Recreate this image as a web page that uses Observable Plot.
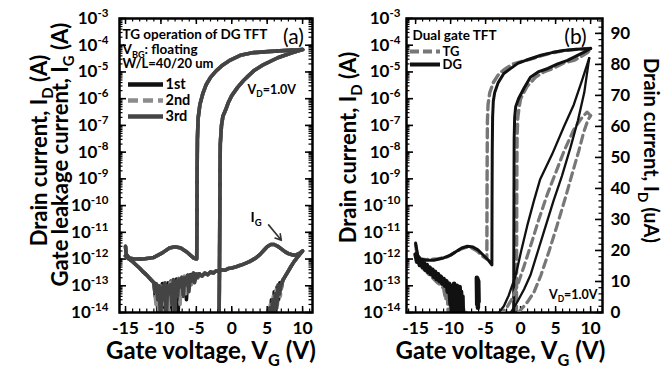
<!DOCTYPE html>
<html><head><meta charset="utf-8">
<script src="https://cdn.jsdelivr.net/npm/d3@7"></script>
<script src="https://cdn.jsdelivr.net/npm/@observablehq/plot@0.6"></script>
<style>
body{margin:0;background:#fff;}
#wrap{position:relative;width:663px;height:369px;overflow:hidden;background:#fff;}
</style></head><body><div id="wrap"></div>
<script>
// ---------- tick labels / categories ----------
const logMajor = [1e-3,1e-4,1e-5,1e-6,1e-7,1e-8,1e-9,1e-10,1e-11,1e-12,1e-13,1e-14];
const xTicks = [-15,-10,-5,0,5,10];
const linTicks = [0,10,20,30,40,50,60,70,80,90];
const legendA = ["1st","2nd","3rd"];
const legendB = ["TG","DG"];

// ---------- panel (a): I_D loop (shared by the 3 overlapping sweeps) [V, A] ----------
const aIdFwd = [[-15,3e-15],[-1.8,3e-15],[-1.75,1e-13],[-1.7,1e-11],[-1.66,1e-9],[-1.62,2e-8],[-1.45,1e-7],[-1.25,2.2e-7],[-0.9,3.6e-7],[-0.5,7e-7],[0,1.3e-6],[0.8,2.6e-6],[1.6,4.6e-6],[2.3,7e-6],[3.1,1.1e-5],[4.5,1.9e-5],[6.5,3.4e-5],[8.3,5e-5],[10,6.9e-5]];
const aIdRev = [[10,6.9e-5],[8,6.4e-5],[5.5,5.9e-5],[3.1,5.3e-5],[1.2,4.2e-5],[-0.2,2.8e-5],[-1.3,1.8e-5],[-2.2,1.1e-5],[-3,6.3e-6],[-3.6,3.4e-6],[-4.1,1.5e-6],[-4.5,6e-7],[-4.75,1.8e-7],[-4.85,3e-8],[-4.9,1e-9],[-4.92,1e-11],[-4.95,1e-12],[-5.4,1.1e-12],[-6.3,1.8e-12],[-7.2,2.6e-12],[-8.0,2.9e-12],[-8.8,2.6e-12],[-9.8,1.7e-12],[-11,1.15e-12],[-12.5,1e-12],[-13.8,1e-12],[-14.5,1.1e-12],[-14.9,1.5e-12],[-15,3e-12]];
// gate leakage I_G
const aIgStart = [[-15,1.3e-12],[-14.5,1e-12],[-14,8e-13],[-13.5,6e-13],[-13,4.5e-13],[-12.5,3.3e-13],[-12,2.5e-13],[-11.5,1.8e-13],[-11,1.3e-13]];
const aIgNoiseL1 = [[-11,1.3e-13],[-10.8,4e-14],[-10.6,1.1e-13],[-10.4,6e-15],[-10.2,9e-14],[-10,2e-14],[-9.8,1.2e-13],[-9.6,5e-15],[-9.4,7e-14],[-9.2,3e-15],[-9,1.3e-13],[-8.8,3e-14],[-8.6,1.5e-13],[-8.4,5e-15],[-8.2,1.2e-13],[-8,4e-14],[-7.8,1.8e-13],[-7.6,6e-15],[-7.4,1.6e-13],[-7.2,5e-14],[-7,2e-13],[-6.8,8e-14],[-6.6,2.2e-13],[-6.4,3e-14],[-6.2,2.5e-13],[-6,9e-14],[-5.8,2.6e-13],[-5.6,1.4e-13],[-5.4,3e-13],[-5.2,1.6e-13],[-5,2.8e-13],[-4.8,2e-13],[-4.6,2.8e-13]];
const aIgNoiseL2 = [[-11,1.3e-13],[-10.9,8e-14],[-10.7,2e-14],[-10.5,1e-13],[-10.3,1e-14],[-10.1,1.2e-13],[-9.9,4e-15],[-9.7,6e-14],[-9.5,1.1e-13],[-9.3,2e-14],[-9.1,9e-14],[-8.9,4e-15],[-8.7,1.4e-13],[-8.5,6e-14],[-8.3,1.6e-13],[-8.1,8e-15],[-7.9,1.3e-13],[-7.7,7e-14],[-7.5,1.9e-13],[-7.3,2e-14],[-7.1,1.7e-13],[-6.9,1e-13],[-6.7,2.3e-13],[-6.5,5e-14],[-6.3,2.1e-13],[-6.1,1.2e-13],[-5.9,2.7e-13],[-5.7,1.1e-13],[-5.5,2.5e-13],[-5.3,1.8e-13],[-5.1,3e-13],[-4.9,1.9e-13],[-4.6,2.8e-13]];
const aIgNoiseL3 = [[-11,1.3e-13],[-10.85,6e-14],[-10.65,1.2e-13],[-10.45,3e-14],[-10.25,1e-13],[-10.05,5e-15],[-9.85,9e-14],[-9.65,3e-14],[-9.45,1.3e-13],[-9.25,6e-15],[-9.05,1e-13],[-8.85,5e-14],[-8.65,1.1e-13],[-8.45,2e-14],[-8.25,1.7e-13],[-8.05,7e-15],[-7.85,1.5e-13],[-7.65,4e-14],[-7.45,1.8e-13],[-7.25,9e-14],[-7.05,2.1e-13],[-6.85,4e-14],[-6.65,2e-13],[-6.45,1.1e-13],[-6.25,2.4e-13],[-6.05,6e-14],[-5.85,2.5e-13],[-5.65,1.5e-13],[-5.45,2.9e-13],[-5.25,1.3e-13],[-5.05,2.7e-13],[-4.85,2.1e-13],[-4.6,2.8e-13]];
const aIgMid = [[-4.6,2.8e-13],[-4.2,2.3e-13],[-3.8,3e-13],[-3.4,2.6e-13],[-3,3.3e-13],[-2.6,3e-13],[-2.2,3.6e-13],[-1.8,3.4e-13],[-1.4,4e-13],[-1,3.8e-13],[-0.5,4.4e-13],[0,4.6e-13],[0.5,5e-13],[1,5.6e-13],[1.5,6.2e-13],[2,7e-13],[2.5,8e-13],[3,9.5e-13],[3.5,1.15e-12],[4,1.5e-12],[4.5,2.1e-12],[5,2.9e-12],[5.5,3.5e-12],[6,3.5e-12],[6.5,3e-12],[7,2.4e-12],[7.5,1.9e-12],[8,1.6e-12],[8.5,1.45e-12],[9,1.4e-12],[9.5,1.6e-12],[10,2e-12],[9.6,1.5e-12],[9.2,1.1e-12],[8.8,8e-13],[8.4,5.5e-13],[8,3.6e-13],[7.6,2.4e-13],[7.2,1.6e-13]];
const aIgNoiseR1 = [[7.2,1.6e-13],[7,8e-14],[6.8,1.3e-13],[6.6,3e-14],[6.4,9e-14],[6.2,1e-14],[6,6e-14],[5.8,5e-15],[5.6,3e-14],[5.4,4e-15],[5.2,1e-14],[5,2e-15]];
const aIgNoiseR2 = [[7.2,1.6e-13],[7.05,1.1e-13],[6.85,4e-14],[6.65,1e-13],[6.45,2e-14],[6.25,7e-14],[6.05,8e-15],[5.85,4e-14],[5.65,6e-15],[5.45,2e-14],[5.25,3e-15],[5.1,2e-15]];
const aIgNoiseR3 = [[7.2,1.6e-13],[6.95,1e-13],[6.75,5e-14],[6.55,1.1e-13],[6.35,1.5e-14],[6.15,5e-14],[5.95,1e-14],[5.75,3e-14],[5.55,3e-15],[5.35,1.5e-14],[5.15,2e-15]];
const igArrow = [{x1:5.2, y1:1.9e-11, x2:7.0, y2:5e-12}];

// ---------- panel (b): log I_D [V, A] ----------
const bDgLogFwd = [[-15,3e-15],[-1.0,3e-15],[-0.98,1e-13],[-0.96,1e-11],[-0.94,1e-9],[-0.92,3e-8],[-0.85,2e-7],[-0.7,5e-7],[-0.3,1e-6],[0.5,2.5e-6],[1.4,6.3e-6],[2.5,1e-5],[3.9,1.35e-5],[5.3,2e-5],[6.7,2.7e-5],[8,4e-5],[9,5.4e-5],[10,7.6e-5]];
const bDgLogRev = [[10,7.6e-5],[8,7e-5],[6.1,6.3e-5],[4.5,5.3e-5],[2.9,4.2e-5],[1.2,3e-5],[-0.4,2.1e-5],[-1.5,1.3e-5],[-2.4,8.7e-6],[-3.2,4e-6],[-3.7,1.7e-6],[-3.9,8e-7],[-4.0,2e-7],[-4.05,1e-8],[-4.08,1e-10],[-4.1,6e-13],[-4.6,9e-13],[-5.2,1.3e-12],[-6.1,2.2e-12],[-6.8,2.8e-12],[-7.6,3e-12],[-8.4,2.6e-12],[-9.2,1.9e-12],[-10,1.4e-12],[-11,1.1e-12],[-12.4,9e-13],[-13.5,9e-13],[-14.3,1e-12],[-14.7,1.4e-12],[-15,4e-12]];
const bTgLogFwd = [[-15,3e-15],[-0.6,3e-15],[-0.58,1e-13],[-0.56,1e-11],[-0.54,1e-9],[-0.5,4e-8],[-0.4,2e-7],[-0.2,5e-7],[0,1e-6],[0.9,2.8e-6],[2.1,6.3e-6],[3.3,1e-5],[4.6,1.35e-5],[6.2,2.2e-5],[7.6,2.7e-5],[8.8,4e-5],[9.6,5.4e-5],[10,7.6e-5]];
const bTgLogRev = [[10,7.6e-5],[8,7e-5],[6.1,6.2e-5],[4.5,5.2e-5],[2.9,4e-5],[1.2,2.9e-5],[-1.1,2e-5],[-2.2,1.3e-5],[-3.1,8.5e-6],[-3.9,4e-6],[-4.4,1.7e-6],[-4.65,6e-7],[-4.74,1.5e-7],[-4.77,1e-8],[-4.8,1e-10],[-4.82,1e-12],[-5.3,1.2e-12],[-6.2,2e-12],[-7,2.6e-12],[-7.7,2.8e-12],[-8.5,2.4e-12],[-9.5,1.7e-12],[-10.5,1.2e-12],[-12,1e-12],[-13.5,9.5e-13],[-14.4,1e-12],[-14.8,1.5e-12],[-15,3.5e-12]];
const bDgNoise = [[-15,1.5e-12],[-14.8,8e-13],[-14.6,1.1e-12],[-14.4,6e-13],[-14.2,9e-13],[-14,5e-13],[-13.8,7e-13],[-13.6,4e-13],[-13.4,6e-13],[-13.2,3.3e-13],[-13,4.8e-13],[-12.8,2.7e-13],[-12.6,4e-13],[-12.4,2.2e-13],[-12.2,3.3e-13],[-12,1.8e-13],[-11.8,2.7e-13],[-11.6,1.5e-13],[-11.4,2.2e-13],[-11.2,1.2e-13],[-11,1.8e-13],[-10.8,1e-13],[-10.6,1.5e-13],[-10.4,6e-14],[-10.2,1.2e-13],[-10,2e-14],[-9.9,1e-13],[-9.8,5e-15],[-9.7,8e-14],[-9.6,3e-15],[-9.5,1.2e-13],[-9.4,4e-15],[-9.3,9e-14],[-9.2,2e-15],[-9.1,1e-13],[-9,3e-15],[-8.9,7e-14],[-8.8,2e-15],[-8.7,9e-14],[-8.6,4e-15],[-8.5,6e-14],[-8.4,3e-15],[-8.3,4e-14],[-8.2,2e-15]];
const bDgBlob = [[-6.25,2e-13],[-6.2,2e-14],[-6.15,1.8e-13],[-6.1,1.5e-14],[-6.05,1.5e-13],[-6.0,2.5e-14]];
const bTgNoise = [[-15,1.3e-12],[-14.5,7e-13],[-14,4.5e-13],[-13.5,3.5e-13],[-13,2.5e-13],[-12.5,1.9e-13],[-12,1.4e-13],[-11.5,1.1e-13],[-11,8e-14],[-10.7,3e-14],[-10.5,7e-14],[-10.3,5e-15],[-10.1,5e-14],[-9.9,3e-15],[-9.6,4e-14],[-9.3,2e-15],[-9,3e-14],[-8.7,2e-15],[-8.4,2e-14],[-8.1,2e-15],[-7.8,1e-14],[-7.5,2e-15]];
// ---------- panel (b): linear I_D [V, uA] ----------
const bDgLinFwd = [[-1.4,0],[-0.5,3.3],[0.5,7.5],[1.4,12],[2.5,20],[3.6,28],[4.7,36],[5.9,44],[7.1,53],[8.2,62],[9.1,71],[9.8,82]];
const bDgLinRev = [[9.8,82],[8.8,75],[7.6,67],[6.2,60],[4.5,51],[2.8,43],[1.9,36],[0.95,28],[0.1,20],[-0.7,12],[-1.7,5.5],[-2.4,2],[-3.1,0]];
const bTgLinFwd = [[-0.3,0],[0.95,3.3],[1.9,6.5],[2.9,12],[4.1,20],[5.2,28],[6.4,37],[7.4,45],[8.3,52],[9,58],[9.6,62],[10,63.5]];
const bTgLinRev = [[10,63.5],[9.5,64.6],[8.8,63],[7.6,59],[6.2,52],[5,45],[3.8,38],[2.6,30],[1.5,22],[0.5,15],[-0.4,9],[-1.2,4.5],[-2,1.5],[-2.7,0]];

// ---------- texts ----------
const yLabA = ["Drain current, I_{D} (A)", "Gate leakage current, I_{G} (A)"];
const yLabB = "Drain current, I_{D} (A)";
const yLabR = "Drain current, I_{D} (uA)";
const xLab = "Gate voltage, V_{G} (V)";
const notesA = ["TG operation of DG TFT", "V_{BG}: floating", "W/L=40/20 um"];
const vdLab = "V_{D}=1.0V";

// ---------- styles / layout ----------
const FONT = 'Lato, "Open Sans", sans-serif';
const H = 369, MT = 18, MB = 57, IH = H - MT - MB;
const s1 = {stroke:"#111", strokeWidth:3.6};
const s2 = {stroke:"#8c8c8c", strokeWidth:3.6, strokeDasharray:"9,5"};
const s3 = {stroke:"#444", strokeWidth:3.6};
const sTG = {stroke:"#777", strokeWidth:3.4, strokeDasharray:"9,5"};
const sDG = {stroke:"#111", strokeWidth:3};
const sTGl = {stroke:"#777", strokeWidth:3.2, strokeDasharray:"8,5"};
const sDGl = {stroke:"#111", strokeWidth:2.3};
const logAll = d3.scaleLog().domain([1e-14,1e-3]).ticks(60).filter(v => v >= 1e-14*0.999 && v <= 1e-3*1.001);
const xMinor = d3.range(-16, 12);
const linMinor = d3.range(0, 95, 2);
const LABEL = {fontSize: 22, fontWeight: 700, fontFamily: FONT, textAnchor: "middle", lineAnchor: "middle"};
const NOTE = {fontWeight: 700, fontFamily: FONT, lineAnchor: "middle"};

const L = (data, st) => Plot.line(data, {x: d => d[0], y: d => d[1], clip: true, strokeLinejoin: "round", ...st});

function rich(svg) {
  d3.select(svg).selectAll("text").each(function() {
    const el = this, s = el.textContent;
    if (!/[_^]\{/.test(s)) return;
    const parts = []; const re = /([_^])\{([^}]*)\}/g; let last = 0, m;
    while ((m = re.exec(s))) { if (m.index > last) parts.push({t: s.slice(last, m.index), k: ""}); parts.push({t: m[2], k: m[1]}); last = re.lastIndex; }
    if (last < s.length) parts.push({t: s.slice(last), k: ""});
    while (el.firstChild) el.removeChild(el.firstChild);
    let shift = 0;
    for (const p of parts) {
      const ts = document.createElementNS("http://www.w3.org/2000/svg", "tspan");
      ts.textContent = p.t;
      const target = p.k === "_" ? 0.28 : p.k === "^" ? -0.42 : 0;
      const own = p.k ? 0.68 : 1;
      if (p.k) ts.setAttribute("font-size", "0.68em");
      const dy = target - shift;
      if (Math.abs(dy) > 1e-6) ts.setAttribute("dy", (dy / own).toFixed(3) + "em");
      shift = target;
      el.appendChild(ts);
    }
  });
}
const wrap = document.getElementById("wrap");
function place(svg, left, top) {
  svg.style.position = "absolute"; svg.style.left = left + "px"; svg.style.top = top + "px";
  svg.style.background = "transparent"; svg.style.overflow = "visible";
  wrap.appendChild(svg); rich(svg);
}
function frameTicks(IW, xDom, opts = {}) {
  const inX = xMinor.filter(v => v >= xDom[0] && v <= xDom[1]);
  const m = [
    Plot.tickX(inX, {insetBottom: IH - 3.5, stroke: "#000", strokeWidth: 1.2}),
    Plot.tickX(inX, {insetTop: IH - 3.5, stroke: "#000", strokeWidth: 1.2}),
    Plot.tickX(xTicks, {insetBottom: IH - 6, stroke: "#000", strokeWidth: 1.5}),
    Plot.tickX(xTicks, {insetTop: IH - 6, stroke: "#000", strokeWidth: 1.5}),
    Plot.tickY(logAll, {insetRight: IW - 3.5, stroke: "#000", strokeWidth: 1.2}),
    Plot.tickY(logMajor, {insetRight: IW - 7, stroke: "#000", strokeWidth: 1.6})
  ];
  if (opts.right) m.push(
    Plot.tickY(logAll, {insetLeft: IW - 3.5, stroke: "#000", strokeWidth: 1.2}),
    Plot.tickY(logMajor, {insetLeft: IW - 7, stroke: "#000", strokeWidth: 1.6}));
  return m;
}
const yAxisLog = (pad) => Plot.axisY({ticks: logMajor, tickSize: 0, tickPadding: pad, label: null,
  tickFormat: d => "10^{" + Math.round(Math.log10(d)) + "}", fontSize: 17, fontWeight: 700, fontFamily: FONT});
const xAxis = () => Plot.axisX({ticks: xTicks, tickSize: 0, tickPadding: 9, label: null,
  tickFormat: d => String(d), fontSize: 17.5, fontWeight: 700, fontFamily: FONT});

// ---------- panel (a) ----------
{
  const W = 330, ML = 119, MR = 18, IW = W - ML - MR, xDom = [-15.85, 11.4];
  const svg = Plot.plot({
    width: W, height: H, marginLeft: ML, marginRight: MR, marginTop: MT, marginBottom: MB,
    style: {background: "transparent", fontFamily: FONT, color: "#000"},
    x: {domain: xDom}, y: {type: "log", domain: [1e-14, 1e-3]},
    marks: [
      ...frameTicks(IW, xDom, {right: true}),
      // sweep 1, 2, 3 (overlapping)
      L(aIdFwd, s1), L(aIdRev, s1), L(aIgStart, s1), L(aIgNoiseL1, s1), L(aIgMid, s1), L(aIgNoiseR1, s1),
      L(aIdFwd, s2), L(aIdRev, s2), L(aIgStart, s2), L(aIgNoiseL2, s2), L(aIgMid, s2), L(aIgNoiseR2, s2),
      L(aIdFwd, s3), L(aIdRev, s3), L(aIgStart, s3), L(aIgNoiseL3, s3), L(aIgMid, s3), L(aIgNoiseR3, s3),
      Plot.arrow(igArrow, {x1: "x1", y1: "y1", x2: "x2", y2: "y2", stroke: "#333", strokeWidth: 1.6, headLength: 7}),
      Plot.frame({stroke: "#000", strokeWidth: 2.5}),
      yAxisLog(11), xAxis(),
      Plot.text([yLabA[0]], {text: d => d, frameAnchor: "left", dx: -80, dy: -15, rotate: -90, ...LABEL}),
      Plot.text([yLabA[1]], {text: d => d, frameAnchor: "left", dx: -59, dy: -11, rotate: -90, ...LABEL}),
      Plot.text([xLab], {text: d => d, frameAnchor: "bottom", dx: -5, dy: 39, ...LABEL, fontSize: 24}),
      Plot.text([notesA[0]], {text: d => d, frameAnchor: "top-left", dx: 3, dy: 16, textAnchor: "start", fontSize: 13.5, ...NOTE}),
      Plot.text([notesA[1]], {text: d => d, frameAnchor: "top-left", dx: 3, dy: 31, textAnchor: "start", fontSize: 13.5, ...NOTE}),
      Plot.text([notesA[2]], {text: d => d, frameAnchor: "top-left", dx: 3, dy: 45, textAnchor: "start", fontSize: 13, ...NOTE}),
      Plot.text(["(a)"], {text: d => d, frameAnchor: "top-right", dx: -19, dy: 19, textAnchor: "middle", fontSize: 21, ...NOTE, fontWeight: 400}),
      Plot.text([vdLab], {text: d => d, frameAnchor: "top-left", dx: 128, dy: 71, textAnchor: "start", fontSize: 12.5, ...NOTE}),
      Plot.text(["I_{G}"], {text: d => d, frameAnchor: "top-left", dx: 131, dy: 199, textAnchor: "start", fontSize: 14, ...NOTE})
    ]
  });
  place(svg, 0, 0);
}
// legend (a)
{
  const SW = 35, W = SW + 40;
  const svg = Plot.plot({
    width: W, height: 48, marginLeft: 0, marginRight: W - SW, marginTop: 0, marginBottom: 0,
    style: {background: "transparent", fontFamily: FONT, color: "#000"},
    x: {domain: [0, 1], axis: null}, y: {type: "point", domain: legendA, range: [8, 40], padding: 0, axis: null},
    marks: [
      Plot.ruleY([legendA[0]], {...s1, strokeWidth: 4.5}),
      Plot.ruleY([legendA[1]], {...s2, strokeWidth: 4.5, strokeDasharray: "10,5"}),
      Plot.ruleY([legendA[2]], {...s3, strokeWidth: 4.5}),
      Plot.text(legendA, {y: d => d, text: d => d, frameAnchor: "right", dx: 2, textAnchor: "start", fontSize: 14.5, ...NOTE})
    ]
  });
  place(svg, 128, 76);
}
// ---------- panel (b) ----------
const WB = 333, MLB = 76, MRB = 61, IWB = WB - MLB - MRB, xDomB = [-16.3, 11.7];
{
  const svg = Plot.plot({
    width: WB, height: H, marginLeft: MLB, marginRight: MRB, marginTop: MT, marginBottom: MB,
    style: {background: "transparent", fontFamily: FONT, color: "#000"},
    x: {domain: xDomB}, y: {type: "log", domain: [1e-14, 1e-3]},
    marks: [
      ...frameTicks(IWB, xDomB),
      L(bTgNoise, sTG), L(bTgLogFwd, sTG), L(bTgLogRev, sTG),
      L(bDgNoise, {...sDG, strokeWidth: 4.5}), L(bDgBlob, {...sDG, strokeWidth: 4.5}), L(bDgLogFwd, sDG), L(bDgLogRev, sDG),
      Plot.frame({stroke: "#000", strokeWidth: 2.5}),
      yAxisLog(6), xAxis(),
      Plot.text([yLabB], {text: d => d, frameAnchor: "left", dx: -58, dy: -18, rotate: -90, ...LABEL}),
      Plot.text([xLab], {text: d => d, frameAnchor: "bottom", dx: -4, dy: 39, ...LABEL, fontSize: 24}),
      Plot.text(["Dual gate TFT"], {text: d => d, frameAnchor: "top-left", dx: 6, dy: 17.5, textAnchor: "start", fontSize: 13.5, ...NOTE}),
      Plot.text(["(b)"], {text: d => d, frameAnchor: "top-right", dx: -27, dy: 19, textAnchor: "middle", fontSize: 21, ...NOTE, fontWeight: 400}),
      Plot.text([vdLab], {text: d => d, frameAnchor: "bottom-right", dx: -5, dy: -18, textAnchor: "end", fontSize: 12.5, ...NOTE})
    ]
  });
  place(svg, 330, 0);
}
// panel (b) linear overlay (right axis)
{
  const svg = Plot.plot({
    width: WB, height: H, marginLeft: MLB, marginRight: MRB, marginTop: MT, marginBottom: MB,
    style: {background: "transparent", fontFamily: FONT, color: "#000"},
    x: {domain: xDomB, axis: null}, y: {domain: [0, 94.8]},
    marks: [
      L(bTgLinRev, sTGl), L(bTgLinFwd, sTGl), L(bDgLinRev, sDGl), L(bDgLinFwd, sDGl),
      Plot.tickY(linMinor, {insetLeft: IWB - 3.5, stroke: "#000", strokeWidth: 1.2}),
      Plot.tickY(linTicks, {insetLeft: IWB - 7, stroke: "#000", strokeWidth: 1.6}),
      Plot.axisY({anchor: "right", ticks: linTicks, tickSize: 0, tickPadding: 8, label: null, fontSize: 17, fontWeight: 700, fontFamily: FONT}),
      Plot.text([yLabR], {text: d => d, frameAnchor: "right", dx: 48, dy: -15, rotate: 90, ...LABEL, fontSize: 20})
    ]
  });
  place(svg, 330, 0);
}
// legend (b)
{
  const SW = 30, W = SW + 30;
  const svg = Plot.plot({
    width: W, height: 30, marginLeft: 0, marginRight: W - SW, marginTop: 0, marginBottom: 0,
    style: {background: "transparent", fontFamily: FONT, color: "#000"},
    x: {domain: [0, 1], axis: null}, y: {type: "point", domain: legendB, range: [8.5, 21.5], padding: 0, axis: null},
    marks: [
      Plot.ruleY([legendB[0]], {...sTG, strokeWidth: 4, strokeDasharray: "9,4"}),
      Plot.ruleY([legendB[1]], {...sDG, strokeWidth: 4}),
      Plot.text(legendB, {y: d => d, text: d => d, frameAnchor: "right", dx: 2, textAnchor: "start", fontSize: 13, ...NOTE})
    ]
  });
  place(svg, 410, 42);
}
</script></body></html>
